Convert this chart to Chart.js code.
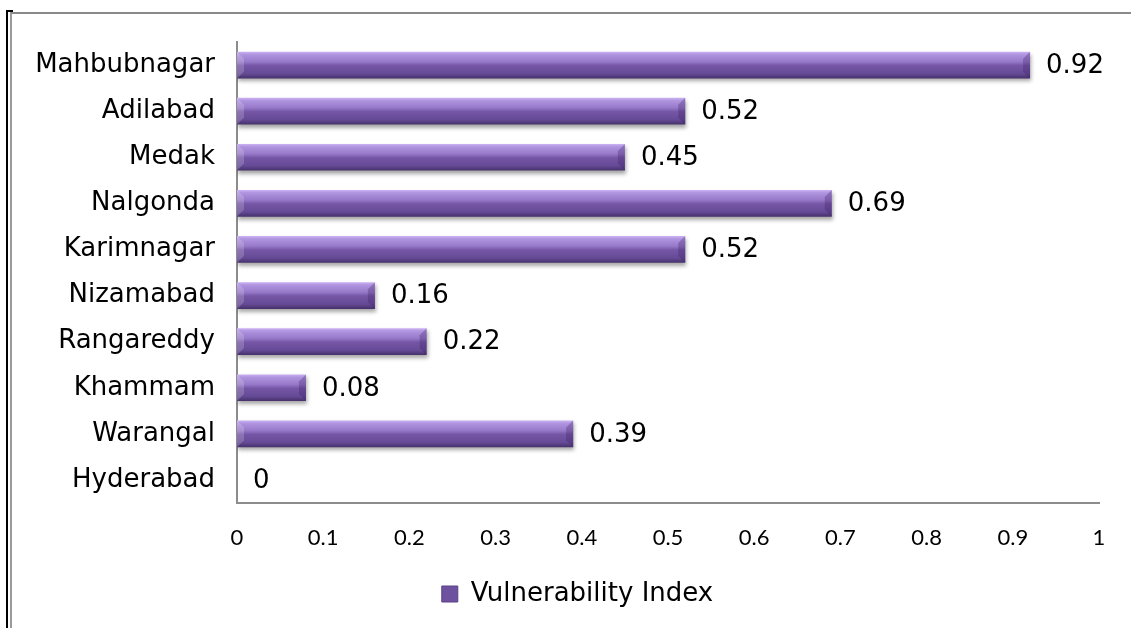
<!DOCTYPE html>
<html>
<head>
<meta charset="utf-8">
<title>Vulnerability Index by District</title>
<script src="https://cdn.jsdelivr.net/npm/chart.js@4.4.1/dist/chart.umd.min.js"></script>
<style>
  html, body { margin: 0; padding: 0; background: #ffffff; }
  #wrap { position: relative; width: 1131px; height: 628px; overflow: hidden; }
  #chart { position: absolute; left: 0; top: 0; }
  .frame-black-v { position: absolute; left: 6px; top: 10px; width: 2px; height: 640px; background: #000; }
  .frame-black-h { position: absolute; left: 6px; top: 10px; width: 7px; height: 2px; background: #000; }
  .frame-gray { position: absolute; left: 10px; top: 12px; width: 1200px; height: 700px;
                border-left: 2px solid #9a9a9a; border-top: 2px solid #8a8a8a; box-sizing: border-box; }
</style>
</head>
<body>
<div id="wrap">
  <div class="frame-black-v"></div>
  <div class="frame-black-h"></div>
  <div class="frame-gray"></div>
  <canvas id="chart" width="1131" height="628"></canvas>
</div>
<script>
// Districts, top to bottom
const categories = ['Mahbubnagar', 'Adilabad', 'Medak', 'Nalgonda', 'Karimnagar',
                    'Nizamabad', 'Rangareddy', 'Khammam', 'Warangal', 'Hyderabad'];
// Vulnerability index per district
const vulnerabilityIndex = [0.92, 0.52, 0.45, 0.69, 0.52, 0.16, 0.22, 0.08, 0.39, 0];
// Value-axis tick labels
const xTickLabels = ['0', '0.1', '0.2', '0.3', '0.4', '0.5', '0.6', '0.7', '0.8', '0.9', '1'];
const seriesName = 'Vulnerability Index';

const BAR_PCT = 0.58;

// Vertical bevelled purple gradient, positioned on each bar
function barFill(ctx) {
  const chart = ctx.chart;
  const yScale = chart.scales.y;
  if (!yScale || ctx.dataIndex === undefined) return '#7658a8';
  const c = yScale.getPixelForValue(ctx.dataIndex);
  const half = (yScale.height / categories.length) * BAR_PCT / 2;
  const g = chart.ctx.createLinearGradient(0, c - half, 0, c + half);
  g.addColorStop(0.00, '#cdb3f5');
  g.addColorStop(0.10, '#b095e0');
  g.addColorStop(0.38, '#9678c8');
  g.addColorStop(0.52, '#7556a6');
  g.addColorStop(0.82, '#654a96');
  g.addColorStop(1.00, '#45306a');
  return g;
}

// Soft drop shadow under bars, bevel highlight and value labels beside each bar
const barDecor = {
  id: 'barDecor',
  afterLayout(chart) {
    // centre the legend a little right of the canvas middle
    if (chart.legend) {
      chart.legend.left += 28;
      chart.legend.right += 28;
    }
  },
  beforeDatasetsDraw(chart) {
    const ctx = chart.ctx;
    ctx.save();
    ctx.shadowColor = 'rgba(0,0,0,0.35)';
    ctx.shadowBlur = 4;
    ctx.shadowOffsetX = 1;
    ctx.shadowOffsetY = 3;
  },
  afterDatasetsDraw(chart) {
    const ctx = chart.ctx;
    ctx.restore();
    const meta = chart.getDatasetMeta(0);
    const data = chart.data.datasets[0].data;
    ctx.save();
    meta.data.forEach((el, i) => {
      const { x, y, base, height } = el.getProps(['x', 'y', 'base', 'height'], true);
      const top = y - height / 2, bot = y + height / 2;
      const len = x - base;
      if (len > 10) {
        const b = Math.min(7, height / 3);
        // left end bevel
        ctx.fillStyle = 'rgba(255,255,255,0.18)';
        ctx.beginPath();
        ctx.moveTo(base, top);
        ctx.lineTo(base + b, top + b);
        ctx.lineTo(base + b, bot - b);
        ctx.lineTo(base, bot);
        ctx.closePath();
        ctx.fill();
        // right end bevel
        ctx.fillStyle = 'rgba(60,30,100,0.30)';
        ctx.beginPath();
        ctx.moveTo(x, top);
        ctx.lineTo(x - b, top + b);
        ctx.lineTo(x - b, bot - b);
        ctx.lineTo(x, bot);
        ctx.closePath();
        ctx.fill();
      }
      ctx.fillStyle = '#000000';
      ctx.font = '26px "DejaVu Sans"';
      ctx.textAlign = 'left';
      ctx.textBaseline = 'middle';
      ctx.fillText(String(data[i]), x + 16, y + 1);
    });
    ctx.restore();
  }
};

new Chart(document.getElementById('chart'), {
  type: 'bar',
  data: {
    labels: categories,
    datasets: [{
      label: seriesName,
      data: vulnerabilityIndex,
      backgroundColor: barFill,
      borderWidth: 0,
      barPercentage: BAR_PCT,
      categoryPercentage: 1.0
    }]
  },
  options: {
    indexAxis: 'y',
    responsive: false,
    animation: false,
    devicePixelRatio: 1,
    layout: { padding: { left: 0, right: 32, top: 42, bottom: 11 } },
    scales: {
      y: {
        grid: { display: false, drawTicks: false },
        border: { display: true, color: '#8c8c8c', width: 2 },
        ticks: { color: '#000000', font: { family: 'DejaVu Sans', size: 26 }, padding: 22 },
        afterFit(scale) { scale.width = 237; }
      },
      x: {
        min: 0,
        max: 1,
        grid: { display: false, drawTicks: false },
        border: { display: true, color: '#8c8c8c', width: 2 },
        ticks: {
          stepSize: 0.1,
          color: '#000000',
          font: { family: 'Lato', size: 22 },
          padding: 22,
          callback: (v, i) => xTickLabels[i]
        },
        afterFit(scale) { scale.height = 68; }
      }
    },
    plugins: {
      tooltip: { enabled: false },
      legend: {
        position: 'bottom',
        labels: {
          color: '#000000',
          font: { family: 'DejaVu Sans', size: 26 },
          boxWidth: 16,
          boxHeight: 16,
          padding: 10,
          generateLabels: (chart) => [{
            text: seriesName,
            fillStyle: '#6e52a0',
            strokeStyle: '#5a4185',
            lineWidth: 1,
            datasetIndex: 0
          }]
        }
      }
    }
  },
  plugins: [barDecor]
});
</script>
</body>
</html>
